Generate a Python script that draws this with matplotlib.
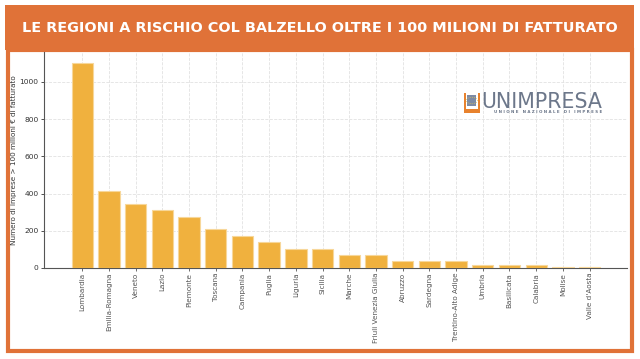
import matplotlib
matplotlib.use("Agg")
import matplotlib.pyplot as plt
from matplotlib.patches import Rectangle, Circle

regions = ["Lombardia", "Emilia-Romagna", "Veneto", "Lazio", "Piemonte", "Toscana",
           "Campania", "Puglia", "Liguria", "Sicilia", "Marche", "Friuli Venezia Giulia",
           "Abruzzo", "Sardegna", "Trentino-Alto Adige", "Umbria", "Basilicata",
           "Calabria", "Molise", "Valle d'Aosta"]
imprese = [1100, 415, 345, 310, 275, 208, 172, 138, 103, 103, 69, 69,
           35, 35, 35, 16, 16, 16, 8, 8]
yticks = [0, 200, 400, 600, 800, 1000]

title = "LE REGIONI A RISCHIO COL BALZELLO OLTRE I 100 MILIONI DI FATTURATO"
ylabel = "Numero di imprese > 100 milioni € di fatturato"

W, H = 640, 359
fig = plt.figure(figsize=(6.4, 3.59), dpi=100)
fig.patch.set_facecolor("white")

orange = "#E07238"

def fx(x):
    return x / W

def fy(y):
    return 1 - y / H

# Banner
fig.patches.append(Rectangle((fx(5), fy(50)), fx(634) - fx(5), fy(5) - fy(50),
                             transform=fig.transFigure, facecolor=orange, edgecolor="none", zorder=-2))
# Frame
fig.patches.append(Rectangle((fx(7.5), fy(350.5)), fx(631.5) - fx(7.5), fy(50) - fy(350.5),
                             transform=fig.transFigure, facecolor="white", edgecolor=orange,
                             linewidth=3, zorder=-2))
t = fig.text(fx(320), fy(28), title, color="white", fontsize=12, fontweight="bold",
             ha="center", va="center", family="DejaVu Sans")
fig.canvas.draw()
w = t.get_window_extent().width
t.set_fontsize(12 * 593 / w)

ax = fig.add_axes([fx(43.5), fy(268), fx(627) - fx(43.5), fy(52) - fy(268)])
ax.set_zorder(2)
ax.patch.set_alpha(0)
x = list(range(len(regions)))
ax.bar(x, imprese, width=0.8, color="#F0B13E", edgecolor="#F7D79A", linewidth=0.8, zorder=3)
ax.set_xlim(-1.45, 20.4)
ax.set_ylim(0, 1160)
ax.set_yticks(yticks)
ax.set_xticks(x)
ax.set_xticklabels(regions, rotation=90, fontsize=5.2, color="#333333")
ax.tick_params(axis="y", labelsize=5.4, colors="#333333", length=2, width=0.6, pad=1.5)
ax.tick_params(axis="x", length=2, width=0.6, colors="#555555", pad=1.5)
ax.set_ylabel(ylabel, fontsize=5.2, color="#333333")
ax.yaxis.set_label_coords((17 - 43.5) / (627 - 43.5), 0.5)
ax.grid(True, linestyle="--", color="#E2E2E2", linewidth=0.6, zorder=0)
for s in ["top", "right"]:
    ax.spines[s].set_visible(False)
for s in ["left", "bottom"]:
    ax.spines[s].set_color("#555555")
    ax.spines[s].set_linewidth(0.8)

# Logo: orange U with blue square
fig.patches.append(Rectangle((fx(463.5), fy(113)), fx(480) - fx(463.5), fy(93) - fy(113),
                             transform=fig.transFigure, facecolor="#E8822E",
                             edgecolor="none", zorder=5))
fig.patches.append(Rectangle((fx(466), fy(108.5)), fx(477.5) - fx(466), fy(93) - fy(108.5),
                             transform=fig.transFigure, facecolor="white",
                             edgecolor="none", zorder=6))
fig.patches.append(Rectangle((fx(467), fy(106)), fx(476.5) - fx(467), fy(95) - fy(106),
                             transform=fig.transFigure, facecolor="#7D8BA6",
                             edgecolor="none", zorder=7))
fig.patches.append(Circle((fx(471.75), fy(100.5)), 3.2 / H,
                          transform=fig.transFigure, facecolor="none",
                          edgecolor="#E8C64A", linewidth=0.6, linestyle=":", zorder=8))
fig.text(fx(481), fy(108.3), "UNIMPRESA", color="#6C778A", fontsize=14.8,
         ha="left", va="baseline", family="DejaVu Sans", zorder=7)
fig.text(fx(494), fy(112.3), "U N I O N E   N A Z I O N A L E   D I   I M P R E S E",
         color="#6C778A", fontsize=2.9, fontweight="bold", ha="left", va="center", zorder=7)

fig.savefig("out.png", dpi=100)
